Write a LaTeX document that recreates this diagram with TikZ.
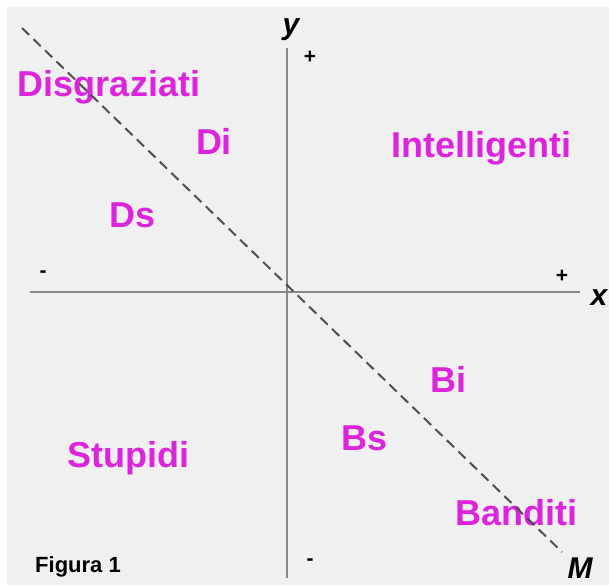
\documentclass[tikz,border=0pt]{standalone}
\usepackage{fontspec}
\setmainfont{Liberation Sans}
\usetikzlibrary{positioning,calc}
\definecolor{fgQuad}{HTML}{DC24DC}
\definecolor{fgBack}{HTML}{F0F0F0}
\definecolor{fgAxis}{HTML}{888888}
\definecolor{fgDash}{HTML}{505050}
\tikzset{
  quad/.style={font=\fontsize{36}{36}\selectfont\bfseries, text=fgQuad, inner sep=0pt, anchor=base},
  axlabel/.style={font=\fontsize{30}{30}\selectfont\bfseries\itshape, inner sep=0pt},
  sign/.style={font=\fontsize{21}{21}\selectfont\bfseries, inner sep=0pt},
  caption/.style={font=\fontsize{22}{22}\selectfont\bfseries, inner sep=0pt, anchor=base},
  axisline/.style={line width=2.3pt, fgAxis},
  mline/.style={line width=2pt, fgDash, dash pattern=on 10pt off 6pt}
}
\begin{document}
\begin{tikzpicture}[x=1pt, y=-1pt]
  % background
  \useasboundingbox (0,0) rectangle (609,585);
  \fill[white] (0,0) rectangle (609,585);
  \fill[fgBack] (7,7) rectangle (609,585);

  % axes
  \coordinate (xl) at (30,292);
  \coordinate (xr) at (580,292);
  \coordinate (yt) at (287,48);
  \coordinate (yb) at (287,578);
  \draw[axisline] (xl) -- (xr);
  \draw[axisline] (yt) -- (yb);

  \node[axlabel] (ylab) at (291,30) {y};
  \node[axlabel] (xlab) at (599,298) {x};
  \node[sign] (ypos) at (310,57) {+};
  \node[sign] (yneg) at (310,562) {-};
  \node[sign] (xneg) at (43,274) {-};
  \node[sign] (xpos) at (562,276) {+};

  % quadrant names
  \node[quad] (disg) at (109,97) {Disgraziati};
  \node[quad] (di) at (214,155) {Di};
  \node[quad] (ds) at (133,227) {Ds};
  \node[quad] (intel) at (481,158) {Intelligenti};
  \node[quad] (bi) at (448,392) {Bi};
  \node[quad] (bs) at (365,450) {Bs};
  \node[quad] (stup) at (128,467) {Stupidi};
  \node[quad] (band) at (516,525) {Banditi};
  \node[caption] (fig) at (78,572) {Figura 1};

  % line M
  \coordinate (mt) at (22,28);
  \coordinate (mb) at (562,552);
  \draw[mline] (mt) -- (mb);
  \node[axlabel] (mlab) at (580,568) {M};
\end{tikzpicture}
\end{document}
